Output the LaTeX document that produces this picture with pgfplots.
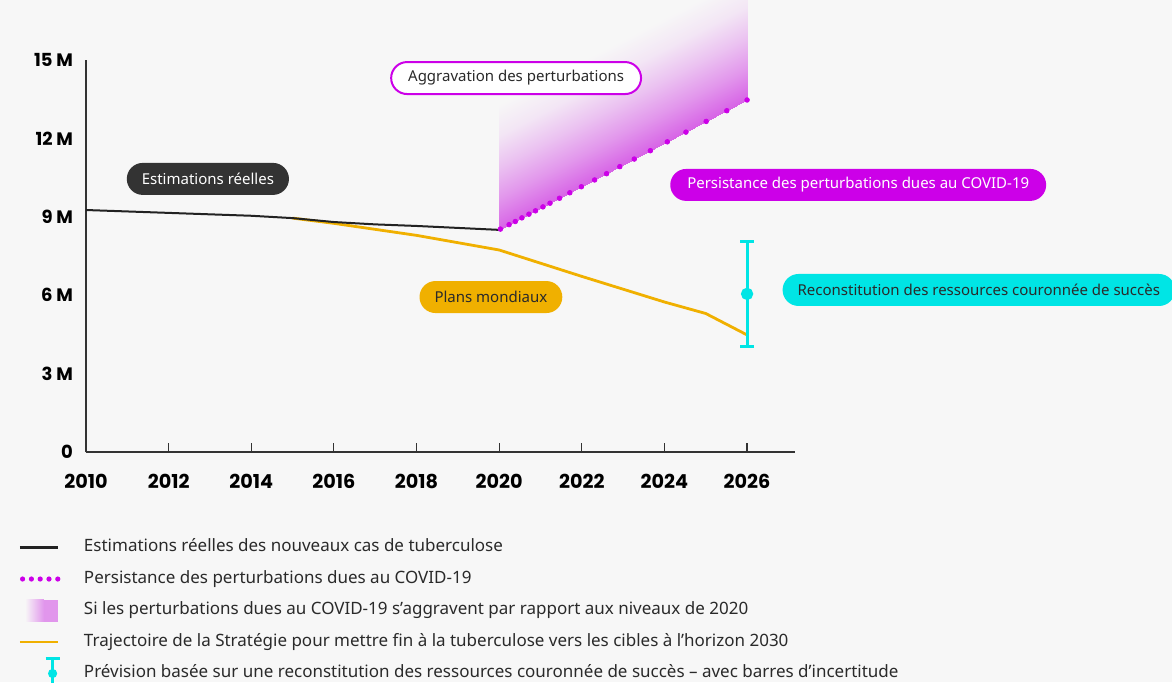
\documentclass[border=0pt]{standalone}
\usepackage{fontspec}
\setmainfont{Noto Sans}
\newfontfamily\tickfont{Poppins}
\usepackage{pgfplots}
\pgfplotsset{compat=1.18}

\definecolor{bgcol}{HTML}{F7F7F7}
\definecolor{axiscol}{HTML}{333333}
\definecolor{blackcol}{HTML}{222222}
\definecolor{magcol}{HTML}{CC00E8}
\definecolor{gradlegend}{RGB}{225,150,236}
\definecolor{yelcol}{HTML}{F0B000}
\definecolor{cyancol}{HTML}{00E5E5}
\definecolor{pilldark}{HTML}{333333}
\definecolor{textdark}{HTML}{2A2A2A}

\begin{document}
\begin{tikzpicture}
% background of the whole picture (1 px = 0.5 pt)
\fill[bgcol] (-43pt,-115pt) rectangle (543pt,226pt);
\begin{axis}[
  at={(0pt,0pt)}, anchor=south west,
  scale only axis, width=354.5pt, height=196pt,
  xmin=2010, xmax=2027.16, ymin=0, ymax=15,
  clip=false,
  axis x line=bottom, axis y line=left,
  axis line style={-, draw=axiscol, line width=0.75pt},
  xtick={2010,2012,...,2026},
  xticklabels={2010,2012,2014,2016,2018,2020,2022,2024,2026},
  ytick={0,3,6,9,12,15},
  yticklabels={0,3 M,6 M,9 M,12 M,15 M},
  tick align=inside, major tick length=4.5pt,
  xtick style={draw=axiscol, line width=0.6pt},
  ytick style={draw=none},
  tick label style={font=\tickfont\bfseries\fontsize{9}{10}\selectfont, text=black},
  xticklabel style={yshift=-7.5pt, font=\tickfont\bfseries\fontsize{9.6}{10}\selectfont},
  yticklabel style={xshift=-3pt},
  colormap={fade}{rgb255(0)=(215,100,230) rgb255(1)=(226,151,236) rgb255(2)=(235,194,241)
    rgb255(3)=(243,230,245) rgb255(4)=(247,247,247)},
  point meta min=0, point meta max=1,
  legend style={at={(axis description cs:-0.0931,-0.2235)}, anchor=north west,
    draw=none, fill=none, inner sep=0pt, outer sep=0pt,
    font=\fontsize{8.5}{10}\selectfont, text=textdark,
    nodes={inner sep=0pt, text height=6.1pt, text depth=1.8pt},
    row sep=7.85pt, column sep=13pt},
  legend cell align=left,
]
% legend images
\addlegendimage{legend image code/.code={\path[draw=none] (0pt,-3pt) rectangle (19pt,3pt);
  \draw[overlay, blackcol, line width=1.3pt] (0pt,0pt) -- (19pt,0pt);}}
\addlegendentry{Estimations réelles des nouveaux cas de tuberculose}
\addlegendimage{legend image code/.code={\path[draw=none] (0pt,-3pt) rectangle (19pt,3pt);
  \draw[overlay, magcol, line width=2.6pt, line cap=round, dash pattern=on 0pt off 4.4pt] (1.3pt,0pt) -- (19pt,0pt);}}
\addlegendentry{Persistance des perturbations dues au COVID-19}
\addlegendimage{legend image code/.code={\path[draw=none] (0pt,-3pt) rectangle (19pt,3pt);
  \shade[overlay, draw=none, left color=bgcol, right color=gradlegend] (2.5pt,-5.5pt) rectangle (12pt,5.5pt);
  \fill[overlay, draw=none, gradlegend] (11.9pt,-5.5pt) rectangle (19pt,5.5pt);}}
\addlegendentry{Si les perturbations dues au COVID-19 s’aggravent par rapport aux niveaux de 2020}
\addlegendimage{legend image code/.code={\path[draw=none] (0pt,-3pt) rectangle (19pt,3pt);
  \draw[overlay, yelcol, line width=1.4pt] (0pt,0pt) -- (19pt,0pt);}}
\addlegendentry{Trajectoire de la Stratégie pour mettre fin à la tuberculose vers les cibles à l’horizon 2030}
\addlegendimage{legend image code/.code={\path[draw=none] (0pt,-3pt) rectangle (19pt,3pt);
  \draw[overlay, cyancol, line width=1.5pt] (16.3pt,-10pt) -- (16.3pt,7.5pt);
  \draw[overlay, cyancol, line width=1.5pt] (12.8pt,7.5pt) -- (19.8pt,7.5pt);
  \fill[overlay, draw=none, cyancol] (16.3pt,0pt) circle (2.3pt);}}
\addlegendentry{Prévision basée sur une reconstitution des ressources couronnée de succès – avec barres d’incertitude}

% worsening scenario: shaded band rising from the persistence line
\addplot[forget plot, patch, patch type=rectangle, shader=interp, point meta=explicit]
  coordinates {(2020,8.5) [0] (2026,13.47) [0] (2026,18.27) [1] (2020,13.3) [1]};

% End TB strategy trajectory
\addplot[forget plot, yelcol, line width=1.4pt] coordinates {
  (2015,8.95)(2016,8.75)(2018,8.29)(2020,7.73)(2022,6.72)(2024,5.74)(2025,5.30)(2026,4.48)};
% actual estimates
\addplot[forget plot, blackcol, line width=1pt] coordinates {
  (2010,9.26)(2012,9.15)(2014,9.04)(2015,8.95)(2016,8.80)(2017,8.71)(2018,8.65)(2020,8.50)};
% persistent COVID-19 disruption
\addplot[forget plot, only marks, mark=*, mark size=1.15pt, magcol] coordinates {
  (2020.03,8.53)(2020.24,8.70)(2020.39,8.82)(2020.55,8.96)(2020.72,9.10)(2020.88,9.23)
  (2021.06,9.38)(2021.23,9.52)(2021.46,9.71)(2021.71,9.92)(2021.99,10.15)(2022.31,10.41)
  (2022.60,10.65)(2022.92,10.92)(2023.27,11.21)(2023.66,11.53)(2024.07,11.87)(2024.52,12.24)
  (2025.01,12.65)(2025.51,13.06)(2026.00,13.47)};
% successful replenishment forecast
\addplot[forget plot, cyancol, mark=*, mark size=2.3pt, line width=1.5pt,
  error bars/.cd, y dir=both, y explicit,
  error bar style={line width=1.5pt, cyancol},
  error mark options={rotate=90, mark size=3.5pt, line width=1.5pt, cyancol}]
  coordinates {(2026,6.05) +- (0,2.02)};

% labels
\tikzset{pill/.style={rounded corners=8pt, minimum height=16pt, inner ysep=0pt,
  inner xsep=7.5pt, font=\fontsize{7.5}{9}\selectfont}}
\node[pill, fill=pilldark, text=white] at (axis cs:2012.95,10.45) {Estimations réelles};
\node[pill, fill=white, draw=magcol, line width=1pt, text=textdark, inner xsep=8.5pt]
  at (axis cs:2020.41,14.31) {Aggravation des perturbations};
\node[pill, fill=magcol, text=white, inner xsep=8.5pt] at (axis cs:2028.69,10.22)
  {Persistance des perturbations dues au COVID-19};
\node[pill, fill=yelcol, text=textdark] at (axis cs:2019.80,5.93) {Plans mondiaux};
\node[pill, fill=cyancol, text=textdark, anchor=west] at (axis cs:2026.85,6.20)
  {Reconstitution des ressources couronnée de succès};
\end{axis}
\pgfresetboundingbox
\useasboundingbox (-43pt,-115pt) rectangle (543pt,226pt);
\end{tikzpicture}
\end{document}
